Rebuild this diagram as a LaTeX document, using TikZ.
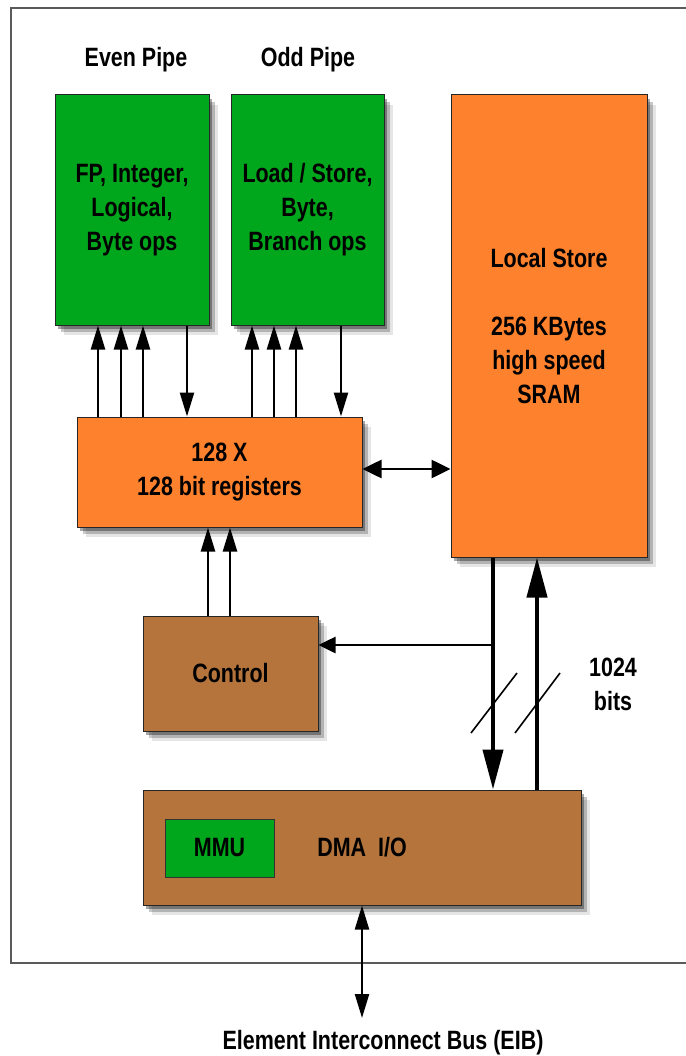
\documentclass[tikz,border=0pt]{standalone}
\usepackage{fontspec}
\setmainfont[FakeStretch=0.81]{Liberation Sans}
\usetikzlibrary{arrows.meta,shadows}
\definecolor{pgreen}{RGB}{0,166,28}
\definecolor{porange}{RGB}{254,130,45}
\definecolor{pbrown}{RGB}{180,116,60}
\definecolor{frame}{RGB}{90,90,90}
\tikzset{
  lbl/.style={font=\bfseries\fontsize{26.5}{34}\selectfont, align=center, inner sep=0pt},
  shadowed/.style={
    drop shadow={shadow xshift=3pt,shadow yshift=-4pt,opacity=0.35,fill=black},
    drop shadow={shadow xshift=6pt,shadow yshift=-7pt,opacity=0.22,fill=black},
    drop shadow={shadow xshift=9pt,shadow yshift=-10pt,opacity=0.10,fill=black}},
  box/.style={lbl, draw=black!85, line width=1pt, shadowed},
  greenbox/.style={box, fill=pgreen},
  orangebox/.style={box, fill=porange},
  brownbox/.style={box, fill=pbrown},
  thinarr/.style={line width=2.4pt, -{Triangle[length=24pt,width=14pt]}},
  dblarr/.style={line width=2.6pt, {Triangle[length=19pt,width=18pt]}-{Triangle[length=19pt,width=18pt]}},
  ctrlarr/.style={line width=2.6pt, -{Triangle[length=17pt,width=16pt]}},
  thickarr/.style={line width=4.2pt, -{Triangle[length=40pt,width=20pt]}},
  eibarr/.style={line width=2.2pt, {Triangle[length=24pt,width=14pt]}-{Triangle[length=24pt,width=14pt]}},
  slash/.style={line width=1.6pt}
}
\begin{document}
\begin{tikzpicture}[x=1pt,y=-1pt]
\useasboundingbox (0,0) rectangle (685,1056);
% outer frame
\draw[frame, line width=1.3pt] (700,8) -- (11,8) -- (11,963) -- (700,963);

% labels
\node[lbl, anchor=base] (evenlbl) at (136,67) {Even Pipe};
\node[lbl, anchor=base] (oddlbl) at (308,67) {Odd Pipe};

% boxes
\node[greenbox, minimum width=154pt, minimum height=230pt] (even) at (132,210) {FP, Integer,\\Logical,\\Byte ops};
\node[greenbox, minimum width=153pt, minimum height=230pt] (odd) at (307.5,210) {Load / Store,\\Byte,\\Branch ops};
\node[orangebox, minimum width=196pt, minimum height=462pt] (ls) at (549,326) {Local Store\\[34pt]256 KBytes\\high speed\\SRAM};
\node[orangebox, minimum width=285pt, minimum height=110pt] (regs) at (219.5,472) {128 X\\128 bit registers};
\node[brownbox, minimum width=175pt, minimum height=115pt] (ctrl) at (230.5,673.5) {Control};
\node[brownbox, minimum width=438pt, minimum height=115pt] (dma) at (362,847.5) {DMA\ \ I/O};
\node[lbl, draw=black!80, line width=1pt, fill=pgreen, minimum width=109pt, minimum height=58pt] (mmu) at (219.5,848) {MMU};

\node[lbl] (bits) at (613,684) {1024\\bits};
\node[lbl, anchor=base] (eib) at (383,1049) {Element Interconnect Bus (EIB)};

% x positions
\coordinate (e1) at (98,0);
\coordinate (e2) at (121,0);
\coordinate (e3) at (143,0);
\coordinate (e4) at (187,0);
\coordinate (o1) at (252,0);
\coordinate (o2) at (274,0);
\coordinate (o3) at (296,0);
\coordinate (o4) at (341,0);
\coordinate (c1) at (208,0);
\coordinate (c2) at (230,0);
\coordinate (d1) at (493,0);
\coordinate (d2) at (537,0);
\coordinate (rl) at (0,469);
\coordinate (junc) at (493,645);
\coordinate (eibend) at (362,1018);

% pipes <-> registers
\foreach \p in {e1,e2,e3}{\draw[thinarr] (regs.north -| \p) -- (even.south -| \p);}
\draw[thinarr] (even.south -| e4) -- (regs.north -| e4);
\foreach \p in {o1,o2,o3}{\draw[thinarr] (regs.north -| \p) -- (odd.south -| \p);}
\draw[thinarr] (odd.south -| o4) -- (regs.north -| o4);

% control -> registers
\foreach \p in {c1,c2}{\draw[thinarr] (ctrl.north -| \p) -- (regs.south -| \p);}

% registers <-> local store
\draw[dblarr] (regs.east |- rl) -- (ls.west |- rl);

% local store <-> DMA
\draw[thickarr] (ls.south -| d1) -- (dma.north -| d1);
\draw[thickarr] (dma.north -| d2) -- (ls.south -| d2);
\draw[ctrlarr] (junc) -- (ctrl.east |- junc);

% width slashes
\draw[slash] (471,733) -- (517,673);
\draw[slash] (515,733) -- (560,673);

% DMA <-> EIB
\draw[eibarr] (dma.south) -- (eibend);
\end{tikzpicture}
\end{document}
